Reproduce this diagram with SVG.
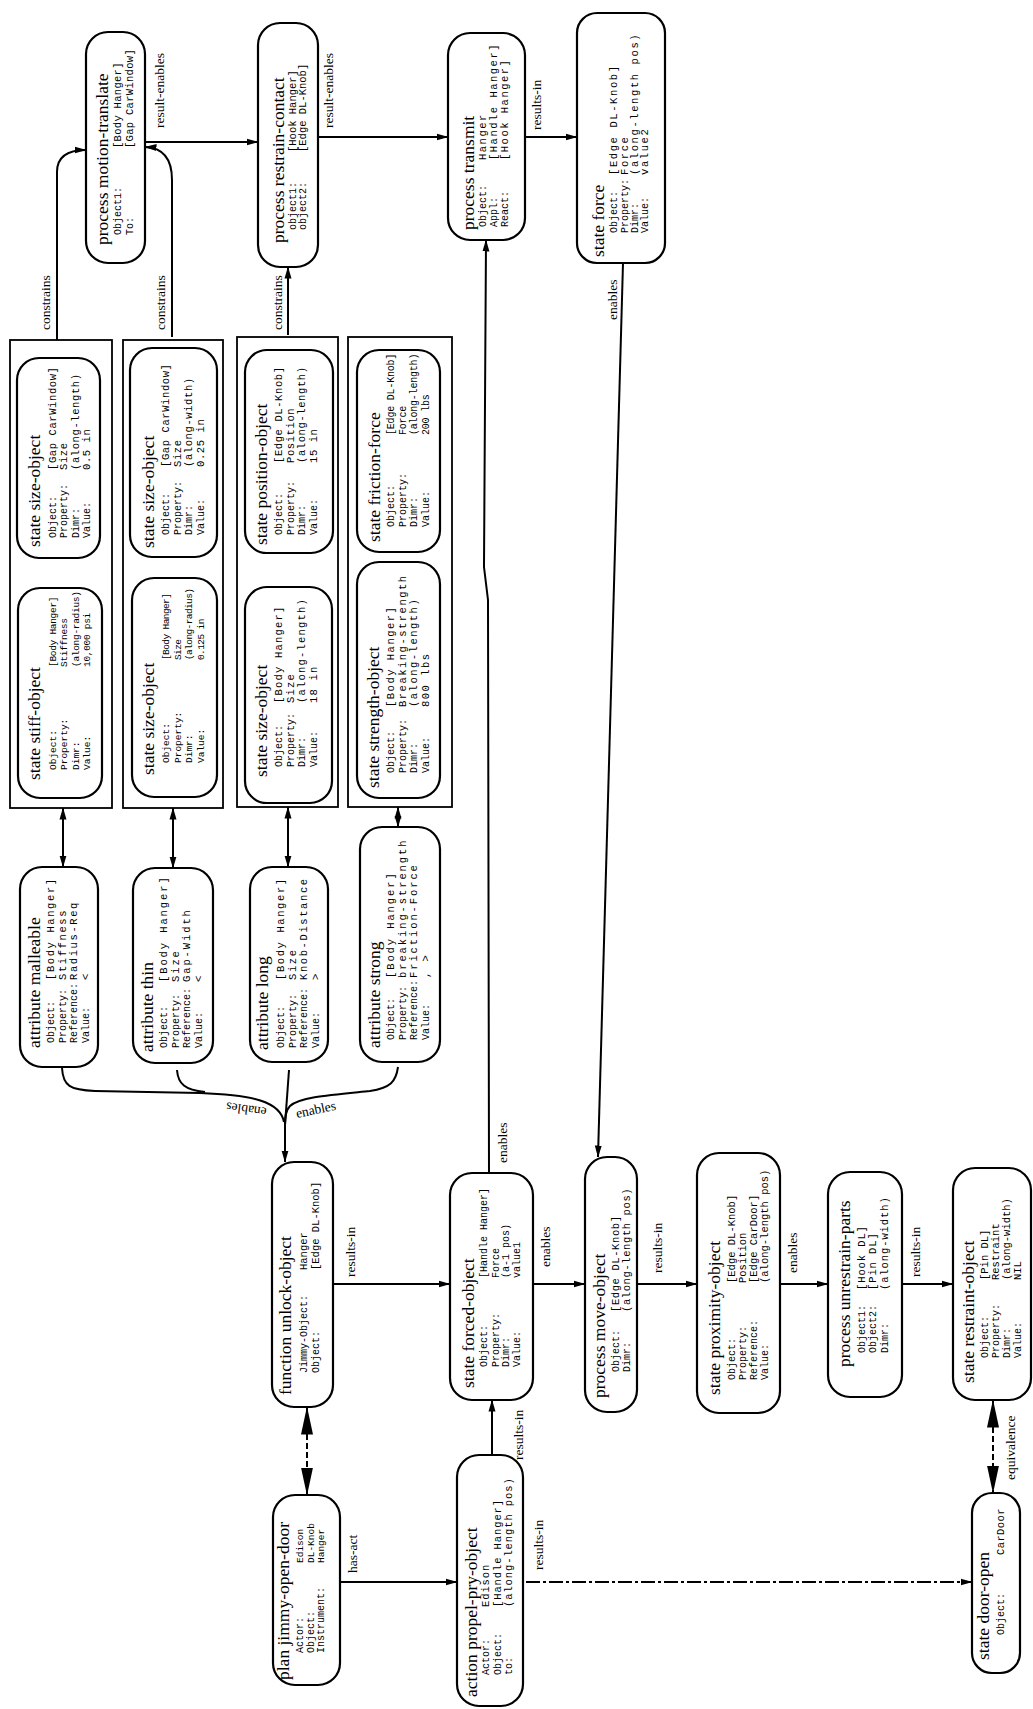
<svg xmlns="http://www.w3.org/2000/svg" width="1033" height="1709" viewBox="0 0 1033 1709">
<defs>
<marker id="a" viewBox="0 0 12 8" refX="11.5" refY="4" markerWidth="12" markerHeight="8" markerUnits="userSpaceOnUse" orient="auto-start-reverse"><path d="M0,0.5 L12,4 L0,7.5 z" fill="#000"/></marker>
<marker id="b" viewBox="0 0 28 12" refX="27.5" refY="6" markerWidth="28" markerHeight="12" markerUnits="userSpaceOnUse" orient="auto-start-reverse"><path d="M0,0 L28,6 L0,12 z" fill="#000"/></marker>
</defs>
<style>
.nd{fill:#fff;stroke:#000;stroke-width:2.2}
.gb{fill:#fff;stroke:#000;stroke-width:1.8}
.t{font-family:'Liberation Serif','Times New Roman',serif;font-size:17.5px;fill:#000}
.l{font-family:'Liberation Mono','Courier New',monospace;font-size:10px;fill:#000}
.v{font-family:'Liberation Mono','Courier New',monospace;font-size:10.5px;fill:#000}
.c{font-family:'Liberation Serif','Times New Roman',serif;font-size:13.5px;fill:#000}
.e{fill:none;stroke:#000;stroke-width:2}
.dash{stroke-dasharray:6,3}
.dd{stroke-dasharray:14,3,3,3}
</style>
<rect width="1033" height="1709" fill="#fff"/>

<!-- group boxes -->
<g id="group-malleable"><rect class="gb" x="10" y="340" width="102" height="468"/></g>
<g id="group-thin"><rect class="gb" x="123" y="340" width="100" height="468"/></g>
<g id="group-long"><rect class="gb" x="237" y="337" width="101" height="470"/></g>
<g id="group-strong"><rect class="gb" x="348" y="337" width="104" height="470"/></g>

<!-- connectors -->
<g id="connectors" class="e">
<path d="M145,142 H258" marker-end="url(#a)"/>
<path d="M318,137 H448" marker-end="url(#a)"/>
<path d="M525,137 H577" marker-end="url(#a)"/>
<path d="M623,263 L598,1157" marker-end="url(#a)"/>
<path d="M489,1173 L488,600 L484,567 L486,240" marker-end="url(#a)"/>
<path d="M57,340 V172 Q57,150 86,150" marker-end="url(#a)"/>
<path d="M172,337 V180 Q172,148 145,147" marker-end="url(#a)"/>
<path d="M288,335 V267" marker-end="url(#a)"/>
<path d="M63,808 V867" marker-start="url(#a)" marker-end="url(#a)"/>
<path d="M173,808 V868" marker-start="url(#a)" marker-end="url(#a)"/>
<path d="M288,807 V867" marker-start="url(#a)" marker-end="url(#a)"/>
<path d="M398,807 V827" marker-start="url(#a)" marker-end="url(#a)"/>
<path d="M62,1068 C63,1086 70,1090 95,1091 L200,1093 C255,1095 280,1102 284,1122"/>
<path d="M177,1070 C178,1084 185,1090 205,1092"/>
<path d="M289,1070 L285,1125"/>
<path d="M398,1067 C396,1082 390,1088 370,1091 C330,1095 300,1097 290,1106 C286,1110 285,1115 285,1125"/>
<path d="M285,1120 V1162" marker-end="url(#a)"/>
<path d="M333,1284 H450" marker-end="url(#a)"/>
<path d="M533,1284 H585" marker-end="url(#a)"/>
<path d="M637,1284 H697" marker-end="url(#a)"/>
<path d="M780,1284 H828" marker-end="url(#a)"/>
<path d="M902,1284 H953" marker-end="url(#a)"/>
<path d="M492,1455 V1400" marker-end="url(#a)"/>
<path d="M340,1582 H457" marker-end="url(#a)"/>
<path class="dd" d="M526,1582 H972" marker-end="url(#a)"/>
<path class="dash" d="M307,1407 V1495" marker-start="url(#b)" marker-end="url(#b)"/>
<path class="dash" d="M993,1400 V1493" marker-start="url(#b)" marker-end="url(#b)"/>
</g>

<!-- connector labels -->
<g id="connector-labels">
<g transform="rotate(-90)">
<text class="c" x="-128" y="164">result-enables</text>
<text class="c" x="-128" y="333">result-enables</text>
<text class="c" x="-130" y="541">results-in</text>
<text class="c" x="-320" y="617">enables</text>
<text class="c" x="-330" y="50">constrains</text>
<text class="c" x="-330" y="165">constrains</text>
<text class="c" x="-330" y="282">constrains</text>
<text class="c" x="-1163" y="507">enables</text>
<text class="c" x="-1277" y="355">results-in</text>
<text class="c" x="-1267" y="550">enables</text>
<text class="c" x="-1273" y="662">results-in</text>
<text class="c" x="-1273" y="797">enables</text>
<text class="c" x="-1277" y="920">results-in</text>
<text class="c" x="-1460" y="523">results-in</text>
<text class="c" x="-1570" y="543">results-in</text>
<text class="c" x="-1573" y="357">has-act</text>
<text class="c" x="-1480" y="1015">equivalence</text>
</g>
<text class="c" transform="translate(267,1108) rotate(188)">enables</text>
<text class="c" transform="translate(297,1118) rotate(-12)">enables</text>
</g>

<!-- top row -->
<g id="n-motion-translate">
<rect class="nd" x="86" y="32" width="59" height="231" rx="22"/>
<g transform="rotate(-90)">
<text class="t" x="-245" y="108">process motion-translate</text>
<text class="l" x="-235" y="121">Object1:</text><text class="l" x="-235" y="133">To:</text>
<g class="v" style="letter-spacing:0.3px"><text x="-148" y="121">[Body Hanger]</text><text x="-148" y="133">[Gap CarWindow]</text></g>
</g></g>

<g id="n-restrain-contact">
<rect class="nd" x="258" y="23" width="60" height="244" rx="22"/>
<g transform="rotate(-90)">
<text class="t" x="-243" y="284">process restrain-contact</text>
<text class="l" x="-230" y="296">object1:</text><text class="l" x="-230" y="306">object2:</text>
<g class="v"><text x="-152" y="296">[Hook Hanger]</text><text x="-152" y="306">[Edge DL-Knob]</text></g>
</g></g>

<g id="n-transmit">
<rect class="nd" x="448" y="33" width="77" height="207" rx="22"/>
<g transform="rotate(-90)">
<text class="t" x="-230" y="474">process transmit</text>
<text class="l" x="-227" y="486">Object:</text><text class="l" x="-227" y="497">Appl:</text><text class="l" x="-227" y="508">React:</text>
<g class="v" style="letter-spacing:1.5px">
<text x="-160" y="486">Hanger</text><text x="-160" y="497">[Handle Hanger]</text><text x="-160" y="508">[Hook Hanger]</text>
</g></g></g>

<g id="n-state-force">
<rect class="nd" x="577" y="13" width="88" height="250" rx="20"/>
<g transform="rotate(-90)">
<text class="t" x="-257" y="604">state force</text>
<text class="l" x="-233" y="617">Object:</text><text class="l" x="-233" y="628">Property:</text><text class="l" x="-233" y="638">Dimr:</text><text class="l" x="-233" y="648">Value:</text>
<g class="v" style="letter-spacing:1.6px">
<text x="-175" y="617">[Edge DL-Knob]</text><text x="-175" y="628">Force</text><text x="-175" y="638">(along-length pos)</text><text x="-175" y="648">value2</text>
</g></g></g>

<!-- state groups -->
<g id="n-size-gap-length">
<rect class="nd" x="17" y="358" width="83" height="200" rx="22"/>
<g transform="rotate(-90)">
<text class="t" x="-547" y="40">state size-object</text>
<g class="l"><text x="-538" y="56">Object:</text><text x="-538" y="67">Property:</text><text x="-538" y="79">Dimr:</text><text x="-538" y="90">Value:</text></g>
<g class="v" style="letter-spacing:0.6px"><text x="-470" y="56">[Gap CarWindow]</text><text x="-470" y="67">Size</text><text x="-470" y="79">(along-length)</text><text x="-470" y="90">0.5 in</text></g>
</g></g>

<g id="n-stiff-object">
<rect class="nd" x="18" y="588" width="84" height="210" rx="22"/>
<g transform="rotate(-90)">
<text class="t" x="-780" y="40">state stiff-object</text>
<g class="l" style="font-size:9.5px"><text x="-770" y="56">Object:</text><text x="-770" y="67">Property:</text><text x="-770" y="79">Dimr:</text><text x="-770" y="90">Value:</text></g>
<g class="v" style="font-size:9.5px;letter-spacing:-0.3px"><text x="-667" y="56">[Body Hanger]</text><text x="-667" y="67">Stiffness</text><text x="-667" y="79">(along-radius)</text><text x="-667" y="90">10,000 psi</text></g>
</g></g>

<g id="n-size-gap-width">
<rect class="nd" x="130" y="348" width="87" height="209" rx="22"/>
<g transform="rotate(-90)">
<text class="t" x="-548" y="154">state size-object</text>
<g class="l"><text x="-535" y="169">Object:</text><text x="-535" y="181">Property:</text><text x="-535" y="192">Dimr:</text><text x="-535" y="204">Value:</text></g>
<g class="v" style="letter-spacing:0.6px"><text x="-467" y="169">[Gap CarWindow]</text><text x="-467" y="181">Size</text><text x="-467" y="192">(along-width)</text><text x="-467" y="204">0.25 in</text></g>
</g></g>

<g id="n-size-hanger-radius">
<rect class="nd" x="132" y="578" width="85" height="219" rx="22"/>
<g transform="rotate(-90)">
<text class="t" x="-775" y="154">state size-object</text>
<g class="l" style="font-size:9.5px"><text x="-763" y="169">Object:</text><text x="-763" y="181">Property:</text><text x="-763" y="192">Dimr:</text><text x="-763" y="204">Value:</text></g>
<g class="v" style="font-size:9.5px;letter-spacing:-0.6px"><text x="-660" y="169">[Body Hanger]</text><text x="-660" y="181">Size</text><text x="-660" y="192">(along-radius)</text><text x="-660" y="204">0.125 in</text></g>
</g></g>

<g id="n-position-object">
<rect class="nd" x="245" y="350" width="88" height="203" rx="22"/>
<g transform="rotate(-90)">
<text class="t" x="-545" y="267">state position-object</text>
<g class="l"><text x="-535" y="282">Object:</text><text x="-535" y="294">Property:</text><text x="-535" y="305">Dimr:</text><text x="-535" y="317">Value:</text></g>
<g class="v" style="letter-spacing:0.6px"><text x="-463" y="282">[Edge DL-Knob]</text><text x="-463" y="294">Position</text><text x="-463" y="305">(along-length)</text><text x="-463" y="317">15 in</text></g>
</g></g>

<g id="n-size-hanger-length">
<rect class="nd" x="245" y="587" width="87" height="216" rx="22"/>
<g transform="rotate(-90)">
<text class="t" x="-777" y="267">state size-object</text>
<g class="l"><text x="-767" y="282">Object:</text><text x="-767" y="294">Property:</text><text x="-767" y="305">Dimr:</text><text x="-767" y="317">Value:</text></g>
<g class="v" style="letter-spacing:1.2px"><text x="-703" y="282">[Body Hanger]</text><text x="-703" y="294">Size</text><text x="-703" y="305">(along-length)</text><text x="-703" y="317">18 in</text></g>
</g></g>

<g id="n-friction-force">
<rect class="nd" x="357" y="350" width="83" height="202" rx="22"/>
<g transform="rotate(-90)">
<text class="t" x="-542" y="380">state friction-force</text>
<g class="l"><text x="-527" y="394">Object:</text><text x="-527" y="406">Property:</text><text x="-527" y="417">Dimr:</text><text x="-527" y="429">Value:</text></g>
<g class="v" style="font-size:10px;letter-spacing:-0.2px"><text x="-435" y="394">[Edge DL-Knob]</text><text x="-435" y="406">Force</text><text x="-435" y="417">(along-length)</text><text x="-435" y="429">200 lbs</text></g>
</g></g>

<g id="n-strength-object">
<rect class="nd" x="357" y="562" width="83" height="236" rx="22"/>
<g transform="rotate(-90)">
<text class="t" x="-788" y="379">state strength-object</text>
<g class="l"><text x="-773" y="394">Object:</text><text x="-773" y="406">Property:</text><text x="-773" y="417">Dimr:</text><text x="-773" y="429">Value:</text></g>
<g class="v" style="letter-spacing:1.5px"><text x="-707" y="394">[Body Hanger]</text><text x="-707" y="406">Breaking-strength</text><text x="-707" y="417">(along-length)</text><text x="-707" y="429">800 lbs</text></g>
</g></g>

<!-- attributes -->
<g id="n-attr-malleable">
<rect class="nd" x="20" y="867" width="78" height="200" rx="22"/>
<g transform="rotate(-90)">
<text class="t" x="-1048" y="40">attribute malleable</text>
<g class="l"><text x="-1043" y="54">Object:</text><text x="-1043" y="66">Property:</text><text x="-1043" y="77">Reference:</text><text x="-1043" y="89">Value:</text></g>
<g class="v" style="letter-spacing:1.6px"><text x="-980" y="54">[Body Hanger]</text><text x="-980" y="66">Stiffness</text><text x="-980" y="77">Radius-Req</text><text x="-980" y="89">&lt;</text></g>
</g></g>

<g id="n-attr-thin">
<rect class="nd" x="133" y="868" width="80" height="195" rx="22"/>
<g transform="rotate(-90)">
<text class="t" x="-1052" y="153">attribute thin</text>
<g class="l"><text x="-1048" y="167">Object:</text><text x="-1048" y="179">Property:</text><text x="-1048" y="190">Reference:</text><text x="-1048" y="202">Value:</text></g>
<g class="v" style="letter-spacing:1.9px"><text x="-982" y="167">[Body Hanger]</text><text x="-982" y="179">Size</text><text x="-982" y="190">Gap-Width</text><text x="-982" y="202">&lt;</text></g>
</g></g>

<g id="n-attr-long">
<rect class="nd" x="250" y="867" width="78" height="195" rx="22"/>
<g transform="rotate(-90)">
<text class="t" x="-1050" y="268">attribute long</text>
<g class="l"><text x="-1048" y="284">Object:</text><text x="-1048" y="296">Property:</text><text x="-1048" y="307">Reference:</text><text x="-1048" y="319">Value:</text></g>
<g class="v" style="letter-spacing:1.6px"><text x="-980" y="284">[Body Hanger]</text><text x="-980" y="296">Size</text><text x="-980" y="307">Knob-Distance</text><text x="-980" y="319">&gt;</text></g>
</g></g>

<g id="n-attr-strong">
<rect class="nd" x="360" y="827" width="80" height="235" rx="22"/>
<g transform="rotate(-90)">
<text class="t" x="-1048" y="380">attribute strong</text>
<g class="l"><text x="-1040" y="394">Object:</text><text x="-1040" y="406">Property:</text><text x="-1040" y="417">Reference:</text><text x="-1040" y="429">Value:</text></g>
<g class="v" style="letter-spacing:1.9px"><text x="-978" y="394">[Body Hanger]</text><text x="-978" y="406">breaking-strength</text><text x="-978" y="417">Friction-Force</text><text x="-978" y="429">, &gt;</text></g>
</g></g>

<!-- main chain -->
<g id="n-unlock-object">
<rect class="nd" x="272" y="1162" width="61" height="245" rx="22"/>
<g transform="rotate(-90)">
<text class="t" x="-1395" y="291">function unlock-object</text>
<g class="l"><text x="-1373" y="307">Jimmy-Object:</text><text x="-1373" y="319">Object:</text></g>
<g class="v"><text x="-1270" y="307">Hanger</text><text x="-1270" y="319">[Edge DL-Knob]</text></g>
</g></g>

<g id="n-forced-object">
<rect class="nd" x="450" y="1173" width="83" height="227" rx="22"/>
<g transform="rotate(-90)">
<text class="t" x="-1388" y="474">state forced-object</text>
<g class="l"><text x="-1367" y="487">Object:</text><text x="-1367" y="499">Property:</text><text x="-1367" y="509">Dimr:</text><text x="-1367" y="520">Value:</text></g>
<g class="v" style="font-size:10px"><text x="-1278" y="487">[Handle Hanger]</text><text x="-1278" y="499">Force</text><text x="-1278" y="509">(a-1 pos)</text><text x="-1278" y="520">value1</text></g>
</g></g>

<g id="n-move-object">
<rect class="nd" x="585" y="1157" width="52" height="255" rx="22"/>
<g transform="rotate(-90)">
<text class="t" x="-1398" y="605">process move-object</text>
<g class="l"><text x="-1372" y="619">Object:</text><text x="-1372" y="630">Dimr:</text></g>
<g class="v" style="letter-spacing:0.6px"><text x="-1312" y="619">[Edge DL-Knob]</text><text x="-1312" y="630">(along-length pos)</text></g>
</g></g>

<g id="n-proximity-object">
<rect class="nd" x="697" y="1153" width="83" height="260" rx="22"/>
<g transform="rotate(-90)">
<text class="t" x="-1395" y="720">state proximity-object</text>
<g class="l"><text x="-1380" y="735">Object:</text><text x="-1380" y="746">Property:</text><text x="-1380" y="757">Reference:</text><text x="-1380" y="768">Value:</text></g>
<g class="v"><text x="-1283" y="735">[Edge DL-Knob]</text><text x="-1283" y="746">Position</text><text x="-1283" y="757">[Edge CarDoor]</text><text x="-1283" y="768">(along-length pos)</text></g>
</g></g>

<g id="n-unrestrain-parts">
<rect class="nd" x="828" y="1172" width="74" height="225" rx="22"/>
<g transform="rotate(-90)">
<text class="t" x="-1367" y="850">process unrestrain-parts</text>
<g class="l"><text x="-1353" y="865">Object1:</text><text x="-1353" y="876">Object2:</text><text x="-1353" y="888">Dimr:</text></g>
<g class="v" style="letter-spacing:0.9px"><text x="-1290" y="865">[Hook DL]</text><text x="-1290" y="876">[Pin DL]</text><text x="-1290" y="888">(along-width)</text></g>
</g></g>

<g id="n-restraint-object">
<rect class="nd" x="953" y="1168" width="78" height="232" rx="22"/>
<g transform="rotate(-90)">
<text class="t" x="-1383" y="974">state restraint-object</text>
<g class="l"><text x="-1358" y="988">Object:</text><text x="-1358" y="999">Property:</text><text x="-1358" y="1010">Dimr:</text><text x="-1358" y="1021">Value:</text></g>
<g class="v"><text x="-1280" y="988">[Pin DL]</text><text x="-1280" y="999">Restraint</text><text x="-1280" y="1010">(along-width)</text><text x="-1280" y="1021">NIL</text></g>
</g></g>

<g id="n-door-open">
<rect class="nd" x="972" y="1493" width="48" height="180" rx="20"/>
<g transform="rotate(-90)">
<text class="t" x="-1660" y="989">state door-open</text>
<text class="l" x="-1635" y="1004">Object:</text>
<text class="v" style="letter-spacing:0.4px" x="-1555" y="1004">CarDoor</text>
</g></g>

<g id="n-propel-pry-object">
<rect class="nd" x="457" y="1455" width="66" height="251" rx="22"/>
<g transform="rotate(-90)">
<text class="t" x="-1697" y="477">action propel-pry-object</text>
<g class="l"><text x="-1675" y="489">Actor:</text><text x="-1675" y="501">Object:</text><text x="-1675" y="512">to:</text></g>
<g class="v" style="letter-spacing:0.9px"><text x="-1607" y="489">Edison</text><text x="-1607" y="501">[Handle Hanger]</text><text x="-1607" y="512">(along-length pos)</text></g>
</g></g>

<g id="n-plan-jimmy-open-door">
<rect class="nd" x="273" y="1495" width="67" height="190" rx="22"/>
<g transform="rotate(-90)">
<text class="t" x="-1680" y="289">plan jimmy-open-door</text>
<g class="l"><text x="-1653" y="303">Actor:</text><text x="-1653" y="314">Object:</text><text x="-1653" y="324">Instrument:</text></g>
<g class="v" style="font-size:9.5px"><text x="-1563" y="303">Edison</text><text x="-1563" y="314">DL-Knob</text><text x="-1563" y="324">Hanger</text></g>
</g></g>
</svg>
